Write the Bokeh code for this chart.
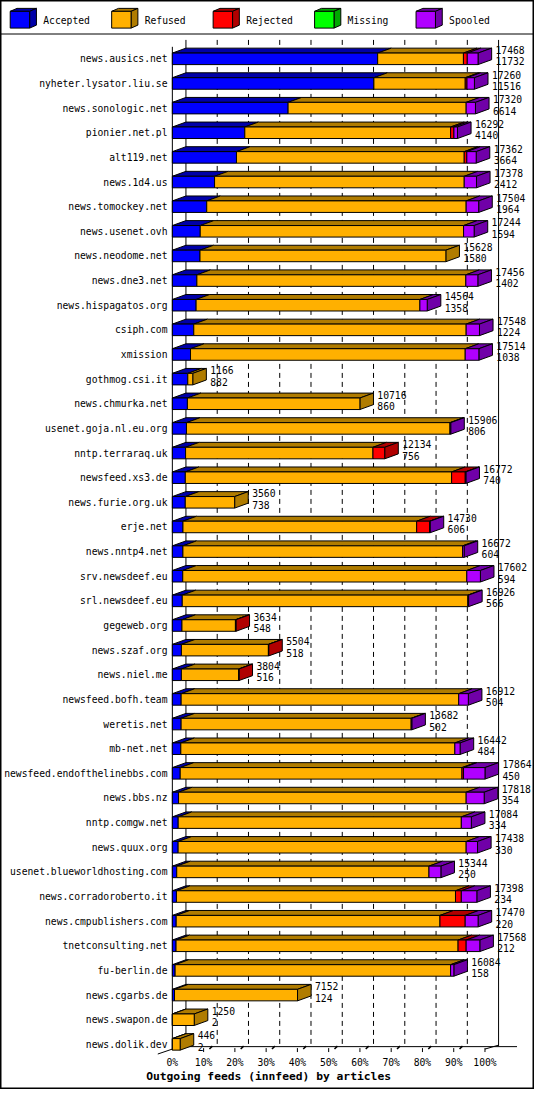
from bokeh.plotting import figure
from bokeh.models import Range1d
from bokeh.core.properties import value
from bokeh.embed import file_html
from bokeh.resources import INLINE

# ---------------- data ----------------
hosts = [
    "news.ausics.net", "nyheter.lysator.liu.se", "news.sonologic.net", "pionier.net.pl",
    "alt119.net", "news.1d4.us", "news.tomockey.net", "news.usenet.ovh", "news.neodome.net",
    "news.dne3.net", "news.hispagatos.org", "csiph.com", "xmission", "gothmog.csi.it",
    "news.chmurka.net", "usenet.goja.nl.eu.org", "nntp.terraraq.uk", "newsfeed.xs3.de",
    "news.furie.org.uk", "erje.net", "news.nntp4.net", "srv.newsdeef.eu", "srl.newsdeef.eu",
    "gegeweb.org", "news.szaf.org", "news.niel.me", "newsfeed.bofh.team", "weretis.net",
    "mb-net.net", "newsfeed.endofthelinebbs.com", "news.bbs.nz", "nntp.comgw.net",
    "news.quux.org", "usenet.blueworldhosting.com", "news.corradoroberto.it",
    "news.cmpublishers.com", "tnetconsulting.net", "fu-berlin.de", "news.cgarbs.de",
    "news.swapon.de", "news.dolik.dev",
]
totals = [17468, 17260, 17320, 16292, 17362, 17378, 17504, 17244, 15628, 17456, 14564,
          17548, 17514, 1166, 10716, 15906, 12134, 16772, 3560, 14730, 16672, 17602, 16926,
          3634, 5504, 3804, 16912, 13682, 16442, 17864, 17818, 17084, 17438, 15344, 17398,
          17470, 17568, 16084, 7152, 1250, 446]
accepted = [11732, 11516, 6614, 4140, 3664, 2412, 1964, 1594, 1580, 1402, 1358, 1224, 1038,
            882, 860, 806, 756, 740, 738, 606, 604, 594, 566, 548, 518, 516, 504, 502, 484,
            450, 354, 334, 330, 250, 234, 220, 212, 158, 124, 2, 2]
refused = [4900, 5220, 10175, 11760, 13014, 14266, 14825, 15047, 14048, 15368, 12787, 15565,
           15696, 284, 9856, 15058, 10708, 15217, 2822, 13354, 15981, 16232, 16320, 3056,
           4970, 3274, 15860, 13144, 15658, 16099, 16435, 16178, 16459, 14413, 15945, 15071,
           16115, 15743, 7028, 1248, 444]
rejected = [220, 100, 0, 190, 148, 0, 0, 0, 0, 0, 0, 0, 0, 0, 0, 0, 670, 780, 0, 740, 0, 0,
            0, 30, 16, 14, 0, 0, 0, 90, 0, 0, 0, 0, 333, 1442, 462, 0, 0, 0, 0]
missing = [0, 0, 0, 0, 0, 0, 0, 0, 0, 0, 0, 0, 0, 0, 0, 0, 0, 0, 0, 0, 0, 0, 0, 0, 0, 0, 0,
           0, 0, 0, 0, 0, 0, 0, 0, 0, 0, 0, 0, 0, 0]
spooled = [616, 424, 531, 202, 536, 700, 715, 603, 0, 686, 419, 759, 780, 0, 0, 42, 0, 35, 0,
           30, 87, 776, 40, 0, 0, 0, 548, 36, 300, 1225, 1029, 572, 649, 681, 886, 737, 779,
           183, 0, 0, 0]
series_names = ["Accepted", "Refused", "Rejected", "Missing", "Spooled"]
tick_values = [0, 10, 20, 30, 40, 50, 60, 70, 80, 90, 100]
tick_labels = ["0%", "10%", "20%", "30%", "40%", "50%", "60%", "70%", "80%", "90%", "100%"]
title_text = "Outgoing feeds (innfeed) by articles"

# ---------------- style / layout ----------------
front_colors = ["#0000ff", "#ffb000", "#ff0000", "#00ff00", "#b000ff"]
dark_colors = ["#0000a8", "#b07c00", "#b00000", "#00a800", "#7000a8"]
FONT = value("DejaVu Sans Mono")
FS = "9.7px"

W, H = 534, 1089
PX_PER_PCT = 3.22       # reference pixels per percent
X0_REF = 177            # reference x of 0 %
ROW0_REF = 59.2         # reference y of first bar centre
ROW_STEP = 25.0         # reference pixels per row


def rx(px):
    return (px - X0_REF) / PX_PER_PCT


def ry(py):
    return (py - ROW0_REF) / ROW_STEP


DX = 14 / PX_PER_PCT    # 3d depth, horizontal
DY = 5 / ROW_STEP       # 3d depth, vertical (up)
HALF = 5.85 / ROW_STEP  # half height of a bar front

p = figure(width=W, height=H,
           x_range=Range1d(rx(0), rx(550)), y_range=Range1d(ry(1105), ry(0)),
           output_backend="svg", toolbar_location=None,
           x_axis_type=None, y_axis_type=None, min_border=0)
p.background_fill_color = "white"
p.border_fill_color = "white"
p.outline_line_color = "black"
p.outline_line_width = 2

# legend separator
p.segment(x0=[rx(0)], x1=[rx(550)], y0=[ry(34)], y1=[ry(34)], line_color="black", line_width=1)

# axes frame lines
p.segment(x0=[0, DX, 100 + DX, 0, rx(162), 100],
          x1=[0, DX, 100 + DX, rx(532), 0, 100 + DX],
          y0=[ry(47), ry(40), ry(40), ry(1061.5), ry(1069), ry(1064)],
          y1=[ry(1064), ry(1061), ry(1061), ry(1061.5), ry(1064), ry(1060)],
          line_color="black", line_width=1)

# dashed grid lines (back plane)
grid_x = [t + DX for t in tick_values[1:-1]]
p.segment(x0=grid_x, x1=grid_x, y0=[ry(40)] * len(grid_x), y1=[ry(1061)] * len(grid_x),
          line_color="black", line_width=1, line_dash="5 4")

# tick marks
tx = tick_values[1:]
p.segment(x0=tx, x1=tx, y0=[ry(1063)] * len(tx), y1=[ry(1067)] * len(tx),
          line_color="black", line_width=1)
sx = tick_values[1:-1]
p.segment(x0=[t + 6 / PX_PER_PCT for t in sx], x1=[t + 9 / PX_PER_PCT for t in sx],
          y0=[ry(1064)] * len(sx), y1=[ry(1061)] * len(sx), line_color="black", line_width=1.5)

p.text(x=tick_values, y=[ry(1078)] * len(tick_values), text=tick_labels,
       text_align="center", text_baseline="middle", text_font=FONT, text_font_size=FS,
       text_color="black")
p.text(x=[rx(150)], y=[ry(1092)], text=[title_text], text_align="left",
       text_baseline="middle", text_font=FONT, text_font_size="11.3px",
       text_font_style="bold", text_color="black")

# ---------------- bars ----------------
series = [accepted, refused, rejected, missing, spooled]
max_total = max(totals)

f_l, f_r, f_t, f_b, f_c = [], [], [], [], []
top_xs, top_ys, top_c = [], [], []
side_xs, side_ys, side_c = [], [], []
for i in range(len(hosts)):
    cum = 0
    last = None
    for k, s in enumerate(series):
        v = s[i]
        if v <= 0:
            continue
        x0 = cum / max_total * 100
        x1 = (cum + v) / max_total * 100
        cum += v
        f_l.append(x0); f_r.append(x1); f_t.append(i - HALF); f_b.append(i + HALF)
        f_c.append(front_colors[k])
        top_xs.append([x0, x1, x1 + DX, x0 + DX])
        top_ys.append([i - HALF, i - HALF, i - HALF - DY, i - HALF - DY])
        top_c.append(dark_colors[k])
        last = (x1, k)
    if last is not None:
        x1, k = last
        side_xs.append([x1, x1 + DX, x1 + DX, x1])
        side_ys.append([i - HALF, i - HALF - DY, i + HALF - DY, i + HALF])
        side_c.append(dark_colors[k])

p.patches(xs=top_xs, ys=top_ys, fill_color=top_c, line_color="black", line_width=1)
p.patches(xs=side_xs, ys=side_ys, fill_color=side_c, line_color="black", line_width=1)
p.quad(left=f_l, right=f_r, top=f_t, bottom=f_b, fill_color=f_c, line_color="black",
       line_width=1)

rows = list(range(len(hosts)))
p.text(x=[rx(172)] * len(hosts), y=rows, text=hosts, text_align="right",
       text_baseline="middle", text_font=FONT, text_font_size=FS, text_color="black")
lab_x = [t / max_total * 100 + DX + 4 / PX_PER_PCT for t in totals]
p.text(x=lab_x, y=[r - 9 / ROW_STEP for r in rows], text=[str(t) for t in totals],
       text_align="left", text_baseline="middle", text_font=FONT, text_font_size=FS,
       text_color="black")
p.text(x=lab_x, y=[r + 2.5 / ROW_STEP for r in rows], text=[str(a) for a in accepted],
       text_align="left", text_baseline="middle", text_font=FONT, text_font_size=FS,
       text_color="black")

# ---------------- legend ----------------
LDX, LDY = 7 / PX_PER_PCT, 3 / ROW_STEP
for k, name in enumerate(series_names):
    bx = 10 + 104.5 * k
    p.patches(xs=[[rx(bx), rx(bx + 20), rx(bx + 20) + LDX, rx(bx) + LDX],
                  [rx(bx + 20), rx(bx + 20) + LDX, rx(bx + 20) + LDX, rx(bx + 20)]],
              ys=[[ry(11), ry(11), ry(11) - LDY, ry(11) - LDY],
                  [ry(11), ry(11) - LDY, ry(28) - LDY, ry(28)]],
              fill_color=dark_colors[k], line_color="black", line_width=1)
    p.quad(left=[rx(bx)], right=[rx(bx + 20)], top=[ry(11)], bottom=[ry(28)],
           fill_color=front_colors[k], line_color="black", line_width=1)
    p.text(x=[rx(bx + 34)], y=[ry(20)], text=[name], text_align="left",
           text_baseline="middle", text_font=FONT, text_font_size=FS, text_color="black")

open("out.html", "w").write(file_html(p, INLINE))
